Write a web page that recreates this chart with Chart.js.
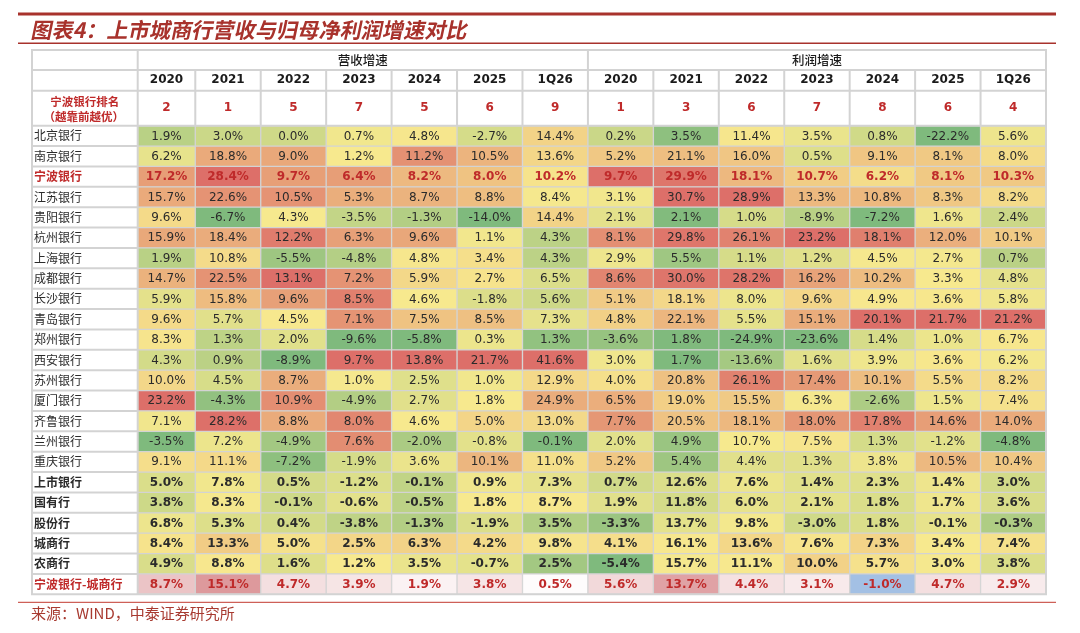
<!DOCTYPE html>
<html lang="zh-CN">
<head>
    <meta charset="UTF-8">
    <title>上市城商行营收与归母净利润增速对比</title>
    <style>
        html, body {
            margin: 0;
            padding: 0;
            background-color: #fff;
        }

        #wrap {
            width: 1080px;
            height: 633px;
        }
    </style>
</head>
<body>
    <div id="wrap"><canvas id="heat" width="1080" height="633"></canvas></div>

    <script src="https://cdn.jsdelivr.net/npm/chart.js@4/dist/chart.umd.min.js"></script>
    <script>
        const groupLabels = ['营收增速', '利润增速'];
        const periodLabels = ['2020', '2021', '2022', '2023', '2024', '2025', '1Q26',
                              '2020', '2021', '2022', '2023', '2024', '2025', '1Q26'];
        const ningboRank = [2, 1, 5, 7, 5, 6, 9, 1, 3, 6, 7, 8, 6, 4];
        const rankTitle = ['宁波银行排名', '（越靠前越优）'];

        const rowLabels = ['北京银行', '南京银行', '宁波银行', '江苏银行', '贵阳银行', '杭州银行',
                           '上海银行', '成都银行', '长沙银行', '青岛银行', '郑州银行', '西安银行',
                           '苏州银行', '厦门银行', '齐鲁银行', '兰州银行', '重庆银行',
                           '上市银行', '国有行', '股份行', '城商行', '农商行', '宁波银行-城商行'];

        //                 营收: 2020  2021  2022  2023  2024  2025  1Q26 | 利润: 2020 2021 2022 2023 2024 2025 1Q26
        const beijing   = [1.9, 3.0, 0.0, 0.7, 4.8, -2.7, 14.4, 0.2, 3.5, 11.4, 3.5, 0.8, -22.2, 5.6];
        const nanjing   = [6.2, 18.8, 9.0, 1.2, 11.2, 10.5, 13.6, 5.2, 21.1, 16.0, 0.5, 9.1, 8.1, 8.0];
        const ningbo    = [17.2, 28.4, 9.7, 6.4, 8.2, 8.0, 10.2, 9.7, 29.9, 18.1, 10.7, 6.2, 8.1, 10.3];
        const jiangsu   = [15.7, 22.6, 10.5, 5.3, 8.7, 8.8, 8.4, 3.1, 30.7, 28.9, 13.3, 10.8, 8.3, 8.2];
        const guiyang   = [9.6, -6.7, 4.3, -3.5, -1.3, -14.0, 14.4, 2.1, 2.1, 1.0, -8.9, -7.2, 1.6, 2.4];
        const hangzhou  = [15.9, 18.4, 12.2, 6.3, 9.6, 1.1, 4.3, 8.1, 29.8, 26.1, 23.2, 18.1, 12.0, 10.1];
        const shanghai  = [1.9, 10.8, -5.5, -4.8, 4.8, 3.4, 4.3, 2.9, 5.5, 1.1, 1.2, 4.5, 2.7, 0.7];
        const chengdu   = [14.7, 22.5, 13.1, 7.2, 5.9, 2.7, 6.5, 8.6, 30.0, 28.2, 16.2, 10.2, 3.3, 4.8];
        const changsha  = [5.9, 15.8, 9.6, 8.5, 4.6, -1.8, 5.6, 5.1, 18.1, 8.0, 9.6, 4.9, 3.6, 5.8];
        const qingdao   = [9.6, 5.7, 4.5, 7.1, 7.5, 8.5, 7.3, 4.8, 22.1, 5.5, 15.1, 20.1, 21.7, 21.2];
        const zhengzhou = [8.3, 1.3, 2.0, -9.6, -5.8, 0.3, 1.3, -3.6, 1.8, -24.9, -23.6, 1.4, 1.0, 6.7];
        const xian      = [4.3, 0.9, -8.9, 9.7, 13.8, 21.7, 41.6, 3.0, 1.7, -13.6, 1.6, 3.9, 3.6, 6.2];
        const suzhou    = [10.0, 4.5, 8.7, 1.0, 2.5, 1.0, 12.9, 4.0, 20.8, 26.1, 17.4, 10.1, 5.5, 8.2];
        const xiamen    = [23.2, -4.3, 10.9, -4.9, 2.7, 1.8, 24.9, 6.5, 19.0, 15.5, 6.3, -2.6, 1.5, 7.4];
        const qilu      = [7.1, 28.2, 8.8, 8.0, 4.6, 5.0, 13.0, 7.7, 20.5, 18.1, 18.0, 17.8, 14.6, 14.0];
        const lanzhou   = [-3.5, 7.2, -4.9, 7.6, -2.0, -0.8, -0.1, 2.0, 4.9, 10.7, 7.5, 1.3, -1.2, -4.8];
        const chongqing = [9.1, 11.1, -7.2, -1.9, 3.6, 10.1, 11.0, 5.2, 5.4, 4.4, 1.3, 3.8, 10.5, 10.4];
        const listed    = [5.0, 7.8, 0.5, -1.2, -0.1, 0.9, 7.3, 0.7, 12.6, 7.6, 1.4, 2.3, 1.4, 3.0];
        const stateOwned = [3.8, 8.3, -0.1, -0.6, -0.5, 1.8, 8.7, 1.9, 11.8, 6.0, 2.1, 1.8, 1.7, 3.6];
        const jointStock = [6.8, 5.3, 0.4, -3.8, -1.3, -1.9, 3.5, -3.3, 13.7, 9.8, -3.0, 1.8, -0.1, -0.3];
        const cityComm  = [8.4, 13.3, 5.0, 2.5, 6.3, 4.2, 9.8, 4.1, 16.1, 13.6, 7.6, 7.3, 3.4, 7.4];
        const ruralComm = [4.9, 8.8, 1.6, 1.2, 3.5, -0.7, 2.5, -5.4, 15.7, 11.1, 10.0, 5.7, 3.0, 3.8];
        const ningboGap = [8.7, 15.1, 4.7, 3.9, 1.9, 3.8, 0.5, 5.6, 13.7, 4.4, 3.1, -1.0, 4.7, 2.9];

        const rows = [beijing, nanjing, ningbo, jiangsu, guiyang, hangzhou, shanghai, chengdu,
                      changsha, qingdao, zhengzhou, xian, suzhou, xiamen, qilu, lanzhou, chongqing,
                      listed, stateOwned, jointStock, cityComm, ruralComm, ningboGap];

        // ---- look ----
        const NINGBO_ROW = 2;
        const FIRST_TOTAL_ROW = 17;
        const GAP_ROW = rows.length - 1;
        const X_START = 0.12;           // first data column is a bit narrower than the rest
        const SPLIT = 7;                // revenue | profit

        const GRID = '#d3d3d3';
        const RED_TEXT = '#bf2a2a';
        const DARK_TEXT = '#2b2b2b';
        const BRAND = '#a8322c';
        const NUM_FONT = "'DejaVu Sans', 'Noto Sans CJK SC', sans-serif";
        const CJK_FONT = "'Noto Sans CJK SC', 'DejaVu Sans', sans-serif";

        const GREEN = [127, 186, 125], YELLOW = [247, 233, 142], RED = [221, 111, 105];
        const WHITE = [255, 255, 255], PINK = [221, 153, 156], BLUE = [163, 192, 228];

        function mix(a, b, t) {
            t = Math.max(0, Math.min(1, isFinite(t) ? t : 0));
            return 'rgb(' + a.map((v, i) => Math.round(v + (b[i] - v) * t)).join(',') + ')';
        }

        // 3-colour scale per column (min / median / max), like the spreadsheet
        const colStats = periodLabels.map((_, c) => {
            const vals = rows.slice(0, GAP_ROW).map(r => r[c]).sort((a, b) => a - b);
            const n = vals.length;
            const mid = n % 2 ? vals[(n - 1) / 2] : (vals[n / 2 - 1] + vals[n / 2]) / 2;
            return { min: vals[0], mid: mid, max: vals[n - 1] };
        });
        const gapMax = Math.max(...ningboGap);
        const gapMin = Math.min(...ningboGap);

        function cellColor(r, c) {
            const v = rows[r][c];
            if (r === GAP_ROW) {
                return v >= 0 ? mix(WHITE, PINK, v / gapMax) : mix(WHITE, BLUE, v / gapMin);
            }
            const s = colStats[c];
            return v <= s.mid
                ? mix(GREEN, YELLOW, (v - s.min) / (s.mid - s.min))
                : mix(YELLOW, RED, (v - s.mid) / (s.max - s.mid));
        }

        const cells = [];
        const cellColors = [];
        const cellInfo = [];
        rows.forEach((vals, r) => {
            vals.forEach((v, c) => {
                cells.push({ x: [c, c + 1], y: rowLabels[r] });
                cellColors.push(cellColor(r, c));
                cellInfo.push({ r: r, v: v });
            });
        });

        const colCenter = c => c === 0 ? (X_START + 1) / 2 : c + 0.5;

        function fixedHeight(h) {
            return scale => {
                scale.height = h;
                scale.paddingLeft = scale.paddingRight = scale.paddingTop = scale.paddingBottom = 0;
            };
        }

        function topAxis(weight, height, pad, tickValues, labelOf, font, color) {
            return {
                type: 'linear',
                axis: 'x',
                position: 'top',
                weight: weight,
                min: X_START,
                max: periodLabels.length,
                bounds: 'data',
                grid: { display: false, drawTicks: false },
                border: { display: false },
                afterBuildTicks: scale => {
                    scale.ticks = tickValues.map(v => ({ value: v }));
                },
                afterFit: fixedHeight(height),
                ticks: {
                    autoSkip: false,
                    maxRotation: 0,
                    minRotation: 0,
                    padding: pad,
                    font: font,
                    color: color,
                    callback: (v, i) => labelOf(i)
                }
            };
        }

        // ---- table frame, header text, numbers, title and source ----
        const tablePlugin = {
            id: 'tableDecor',
            afterDatasetsDraw(chart) {
                const ctx = chart.ctx;
                const area = chart.chartArea;
                const meta = chart.getDatasetMeta(0);
                ctx.save();
                ctx.textAlign = 'center';
                ctx.textBaseline = 'middle';
                meta.data.forEach((bar, i) => {
                    const info = cellInfo[i];
                    const left = Math.max(Math.min(bar.x, bar.base), area.left);
                    const right = Math.max(bar.x, bar.base);
                    const bold = info.r === NINGBO_ROW || info.r >= FIRST_TOTAL_ROW;
                    ctx.font = (bold ? 'bold ' : '') + '12px ' + NUM_FONT;
                    ctx.fillStyle = (info.r === NINGBO_ROW || info.r === GAP_ROW) ? RED_TEXT : DARK_TEXT;
                    ctx.fillText(info.v.toFixed(1) + '%', (left + right) / 2, bar.y + 0.5);
                });
                ctx.restore();
            },
            afterDraw(chart) {
                const ctx = chart.ctx;
                const area = chart.chartArea;
                const xs = chart.scales.x;
                const xYear = chart.scales.xYear;
                const xGroup = chart.scales.xGroup;
                const ys = chart.scales.y;
                const L = 32, T = xGroup.top, R = area.right, B = area.bottom;

                ctx.save();
                ctx.strokeStyle = GRID;
                ctx.lineWidth = 2;
                ctx.beginPath();
                const h = (x1, x2, y) => { ctx.moveTo(x1, y); ctx.lineTo(x2, y); };
                const v = (x, y1, y2) => { ctx.moveTo(x, y1); ctx.lineTo(x, y2); };
                h(L, R, xYear.top);
                h(L, R, xs.top);
                h(L, R, area.top);
                const half = (ys.getPixelForValue(1) - ys.getPixelForValue(0)) / 2;
                for (let i = 1; i < rowLabels.length; i++) {
                    const y = ys.getPixelForValue(i) - half;
                    h(L, area.left, y);
                }
                v(area.left, T, B);
                v(xs.getPixelForValue(SPLIT), T, area.top);
                for (let c = 1; c < periodLabels.length; c++) {
                    if (c !== SPLIT) v(xs.getPixelForValue(c), xYear.top, area.top);
                }
                ctx.rect(L, T, R - L, B - T);
                ctx.stroke();

                // rank row caption in the label column
                ctx.fillStyle = RED_TEXT;
                ctx.textAlign = 'center';
                ctx.textBaseline = 'middle';
                ctx.font = 'bold 11.5px ' + CJK_FONT;
                const cx = (L + area.left) / 2;
                const cy = (xs.top + area.top) / 2;
                ctx.fillText(rankTitle[0], cx, cy - 7);
                ctx.fillText(rankTitle[1], cx - 1, cy + 8);

                // title block (CJK face has no italic, so slant it by hand)
                ctx.fillStyle = BRAND;
                ctx.fillRect(18, 12.5, 1038, 3);
                ctx.fillRect(18, 42.5, 1038, 1.5);
                ctx.save();
                ctx.translate(32, 29.5);
                ctx.transform(1, 0, -0.21, 1, 0, 0);
                ctx.textAlign = 'left';
                ctx.font = 'bold 21.2px ' + CJK_FONT;
                ctx.fillText('图表4：上市城商行营收与归母净利润增速对比', 0, 0);
                ctx.restore();

                // source line
                ctx.fillStyle = '#c23a30';
                ctx.fillRect(18, 601.8, 1038, 1);
                ctx.fillStyle = '#a83a30';
                ctx.textAlign = 'left';
                ctx.font = '15px ' + CJK_FONT;
                ctx.fillText('来源：WIND，中泰证券研究所', 31, 613.5);
                ctx.restore();
            }
        };

        new Chart(document.getElementById('heat'), {
            type: 'bar',
            data: {
                labels: rowLabels,
                datasets: [{
                    data: cells,
                    backgroundColor: cellColors,
                    borderColor: GRID,
                    borderWidth: 1,
                    borderSkipped: false,
                    barPercentage: 1,
                    categoryPercentage: 1,
                    clip: 0
                }]
            },
            options: {
                indexAxis: 'y',
                responsive: false,
                animation: false,
                events: [],
                layout: {
                    padding: { top: 50, left: 34, right: 34, bottom: 38.7 }
                },
                plugins: {
                    legend: { display: false },
                    tooltip: { enabled: false }
                },
                scales: {
                    x: topAxis(1, 35, 10.3, periodLabels.map((_, c) => colCenter(c)),
                        i => String(ningboRank[i]),
                        { family: NUM_FONT, size: 12, weight: 'bold' }, RED_TEXT),
                    xYear: topAxis(2, 20.7, 3.2, periodLabels.map((_, c) => colCenter(c)),
                        i => periodLabels[i],
                        { family: NUM_FONT, size: 12, weight: 'bold' }, '#1a1a1a'),
                    xGroup: topAxis(3, 20, 2.5, [(X_START + SPLIT) / 2, (SPLIT + periodLabels.length) / 2],
                        i => groupLabels[i],
                        { family: CJK_FONT, size: 12.5, weight: 500 }, '#1a1a1a'),
                    y: {
                        type: 'category',
                        offset: true,
                        grid: { display: false, drawTicks: false },
                        border: { display: false },
                        afterFit: scale => {
                            scale.width = 103.7;
                            scale.paddingLeft = scale.paddingRight = scale.paddingTop = scale.paddingBottom = 0;
                        },
                        ticks: {
                            autoSkip: false,
                            crossAlign: 'far',
                            padding: 0,
                            font: ctx => ({
                                family: CJK_FONT,
                                size: 12,
                                weight: (ctx.index === NINGBO_ROW || ctx.index >= FIRST_TOTAL_ROW) ? 'bold' : 'normal'
                            }),
                            color: ctx => (ctx.index === NINGBO_ROW || ctx.index === GAP_ROW) ? RED_TEXT : DARK_TEXT
                        }
                    }
                }
            },
            plugins: [tablePlugin]
        });
    </script>
</body>
</html>
